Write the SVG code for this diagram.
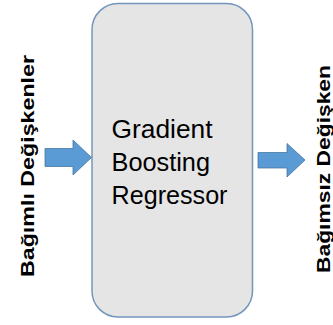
<svg xmlns="http://www.w3.org/2000/svg" width="333" height="325" viewBox="0 0 333 325">
  <style>
    .model { fill: #e5e5e5; stroke: #7396bd; stroke-width: 1.5; }
    .arrow { fill: #5b9bd5; stroke: #41719c; stroke-width: 0.75; }
    .label { font-family: "Liberation Sans", Arial, sans-serif; font-weight: bold; font-size: 19px; fill: #000; }
    .model-text { font-family: "Liberation Sans", Arial, sans-serif; font-size: 25px; fill: #000; }
  </style>

  <!-- input side label -->
  <g id="inputs">
    <text class="label" transform="translate(34,166) rotate(-90)" text-anchor="middle" textLength="222" lengthAdjust="spacingAndGlyphs">Bağımlı Değişkenler</text>
  </g>

  <!-- model block -->
  <g id="model">
    <rect class="model" x="92" y="3.5" width="160.5" height="313.5" rx="26" ry="26"/>
    <text class="model-text" x="111.5" y="137.5" textLength="101" lengthAdjust="spacingAndGlyphs">Gradient</text>
    <text class="model-text" x="111.5" y="171" textLength="98.5" lengthAdjust="spacingAndGlyphs">Boosting</text>
    <text class="model-text" x="111.5" y="203.5" textLength="116" lengthAdjust="spacingAndGlyphs">Regressor</text>
  </g>

  <!-- output side label -->
  <g id="output">
    <text class="label" transform="translate(330,169) rotate(-90)" text-anchor="middle" textLength="208" lengthAdjust="spacingAndGlyphs">Bağımsız Değişken</text>
  </g>

  <!-- block arrows -->
  <g id="connectors">
    <polygon class="arrow" points="45,148.5 73,148.5 73,140 91.5,157.5 73,175 73,166.5 45,166.5"/>
    <polygon class="arrow" points="258,152.5 287,152.5 287,143.5 305,160 287,177 287,168 258,168"/>
  </g>
</svg>
